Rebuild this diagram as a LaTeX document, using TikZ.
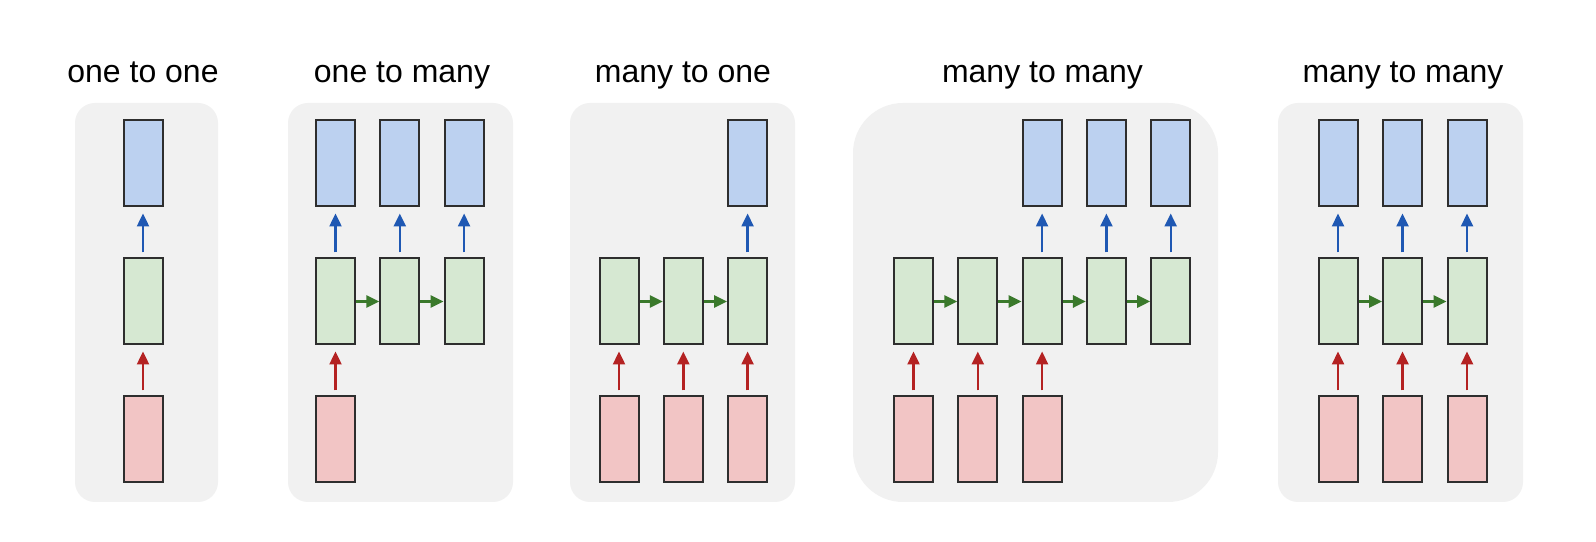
\documentclass[tikz,border=0pt]{standalone}
\usepackage{fontspec}
\setmainfont{Liberation Sans}
\usetikzlibrary{arrows.meta,positioning}
\definecolor{rnink}{HTML}{2E2E2E}
\definecolor{rnpanel}{HTML}{F1F1F1}
\definecolor{rnbluefill}{HTML}{BCD1F0}
\definecolor{rngreenfill}{HTML}{D6E8D2}
\definecolor{rnredfill}{HTML}{F2C5C5}
\definecolor{rnblue}{HTML}{1F58B3}
\definecolor{rngreen}{HTML}{3A792B}
\definecolor{rnred}{HTML}{B42222}
\tikzset{
  rn title/.style={font=\fontsize{32bp}{38bp}\selectfont, text=black, anchor=base},
  rn panel/.style={fill=rnpanel, rounded corners=20bp},
  rn box/.style={draw=rnink, line width=2bp, minimum width=39bp, minimum height=86bp,
    inner sep=0pt},
  rn in/.style={rn box, fill=rnredfill},
  rn hid/.style={rn box, fill=rngreenfill},
  rn out/.style={rn box, fill=rnbluefill},
  rn arrow/.style={-{Triangle[length=13bp,width=12bp]}, line width=2.4bp},
  rn up/.style={rn arrow, shorten <=5bp, shorten >=6bp},
  rn side/.style={rn arrow, draw=rngreen, line width=2.8bp}
}

\begin{document}
\begin{tikzpicture}[x=1bp, y=1bp, node distance=50bp]
  \useasboundingbox (0,0) rectangle (1596,542);
  \fill[white] (0,0) rectangle (1596,542);

  % one to one
  \fill[rn panel] (75,40) rectangle (218,439);
  \node[rn title] (t1) at (143,459) {one to one};
  \node[rn hid] (h1-1) at (143,240.5) {};
  \node[rn out, above=of h1-1] (o1-1) {};
  \node[rn in, below=of h1-1] (i1-1) {};
  \draw[rn up, draw=rnred] (i1-1) -- (h1-1);
  \draw[rn up, draw=rnblue] (h1-1) -- (o1-1);

  % one to many
  \fill[rn panel] (288,40) rectangle (513,439);
  \node[rn title] (t2) at (402,459) {one to many};
  \foreach \k in {1,2,3} {
    \node[rn hid] (h2-\k) at ({335.5+64.3*(\k-1)},240.5) {};
    \node[rn out, above=of h2-\k] (o2-\k) {};
    \draw[rn up, draw=rnblue] (h2-\k) -- (o2-\k);
  }
  \node[rn in, below=of h2-1] (i2-1) {};
  \draw[rn up, draw=rnred] (i2-1) -- (h2-1);
  \foreach \k/\j in {1/2,2/3}
    \draw[rn side] (h2-\k) -- (h2-\j);

  % many to one
  \fill[rn panel] (570,40) rectangle (795,439);
  \node[rn title] (t3) at (683,459) {many to one};
  \foreach \k in {1,2,3} {
    \node[rn hid] (h3-\k) at ({619+64.3*(\k-1)},240.5) {};
    \node[rn in, below=of h3-\k] (i3-\k) {};
    \draw[rn up, draw=rnred] (i3-\k) -- (h3-\k);
  }
  \node[rn out, above=of h3-3] (o3-3) {};
  \draw[rn up, draw=rnblue] (h3-3) -- (o3-3);
  \foreach \k/\j in {1/2,2/3}
    \draw[rn side] (h3-\k) -- (h3-\j);

  % many to many, delayed
  \fill[rn panel, rounded corners=50bp] (853,40) rectangle (1218,439);
  \node[rn title] (t4) at (1042.5,459) {many to many};
  \foreach \k in {1,...,5}
    \node[rn hid] (h4-\k) at ({913.5+64.3*(\k-1)},240.5) {};
  \foreach \k in {1,2,3} {
    \node[rn in, below=of h4-\k] (i4-\k) {};
    \draw[rn up, draw=rnred] (i4-\k) -- (h4-\k);
  }
  \foreach \k in {3,4,5} {
    \node[rn out, above=of h4-\k] (o4-\k) {};
    \draw[rn up, draw=rnblue] (h4-\k) -- (o4-\k);
  }
  \foreach \k/\j in {1/2,2/3,3/4,4/5}
    \draw[rn side] (h4-\k) -- (h4-\j);

  % many to many, synced
  \fill[rn panel] (1278,40) rectangle (1523,439);
  \node[rn title] (t5) at (1403,459) {many to many};
  \foreach \k in {1,2,3} {
    \node[rn hid] (h5-\k) at ({1338+64.5*(\k-1)},240.5) {};
    \node[rn out, above=of h5-\k] (o5-\k) {};
    \node[rn in, below=of h5-\k] (i5-\k) {};
    \draw[rn up, draw=rnred] (i5-\k) -- (h5-\k);
    \draw[rn up, draw=rnblue] (h5-\k) -- (o5-\k);
  }
  \foreach \k/\j in {1/2,2/3}
    \draw[rn side] (h5-\k) -- (h5-\j);
\end{tikzpicture}
\end{document}
